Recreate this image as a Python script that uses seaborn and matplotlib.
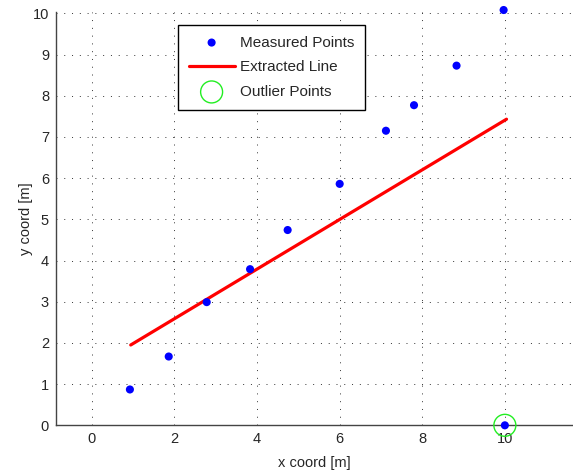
import numpy as np
import pandas as pd
import seaborn as sns
import matplotlib.pyplot as plt

sns.set_style("white")
plt.rcParams['font.family'] = ['Liberation Sans', 'DejaVu Sans']

# measured points
meas_x = [0.92, 1.86, 2.78, 3.83, 4.74, 6.00, 7.12, 7.80, 8.83, 9.97, 10.0]
meas_y = [0.87, 1.67, 2.99, 3.79, 4.74, 5.86, 7.15, 7.77, 8.73, 10.08, 0.0]

# extracted line end points
line_x = [0.94, 10.04]
line_y = [1.95, 7.43]

# outlier
out_x = [10.0]
out_y = [0.0]

pts = pd.DataFrame({'x': meas_x, 'y': meas_y})
ln = pd.DataFrame({'x': line_x, 'y': line_y})
outl = pd.DataFrame({'x': out_x, 'y': out_y})

fig = plt.figure(figsize=(5.73, 4.73), dpi=100)
ax = fig.add_axes([0.0977, 0.1008, 0.9023, 0.8728])

sns.scatterplot(data=pts, x='x', y='y', ax=ax, color='#0000ff', s=34,
                edgecolor='none', label='Measured Points', clip_on=False, zorder=4)
sns.lineplot(data=ln, x='x', y='y', ax=ax, color='#ff0000', lw=2.3,
             label='Extracted Line', zorder=3)
sns.scatterplot(data=outl, x='x', y='y', ax=ax, s=250, facecolor='none',
                edgecolor='#22ee22', linewidth=1.0, label='Outlier Points',
                clip_on=False, zorder=5)

ax.set_xlim(-0.87, 11.65)
ax.set_ylim(0, 10.02)
ax.set_xticks(range(0, 11, 2))
ax.set_yticks(range(0, 11))
ax.grid(True, linestyle=(0, (1, 7)), color='#333333', linewidth=0.7)
for s in ['top', 'right']:
    ax.spines[s].set_visible(False)
for s in ['left', 'bottom']:
    ax.spines[s].set_color('#444444')
    ax.spines[s].set_linewidth(1.0)
ax.tick_params(direction='in', length=4, width=0.8, color='#333333',
               labelsize=10.5, pad=5)
ax.set_xlabel('x coord [m]', fontsize=10.5, labelpad=7)
ax.set_ylabel('y coord [m]', fontsize=10.5, labelpad=0)

leg = ax.legend(loc='upper left', bbox_to_anchor=(0.236, 0.97), fontsize=11,
                handlelength=3.0, handletextpad=0.33, labelspacing=0.7,
                borderpad=0.7, borderaxespad=0, fancybox=False, framealpha=1,
                edgecolor='black')
leg.get_frame().set_linewidth(1.0)

fig.savefig('out.png', dpi=100)
